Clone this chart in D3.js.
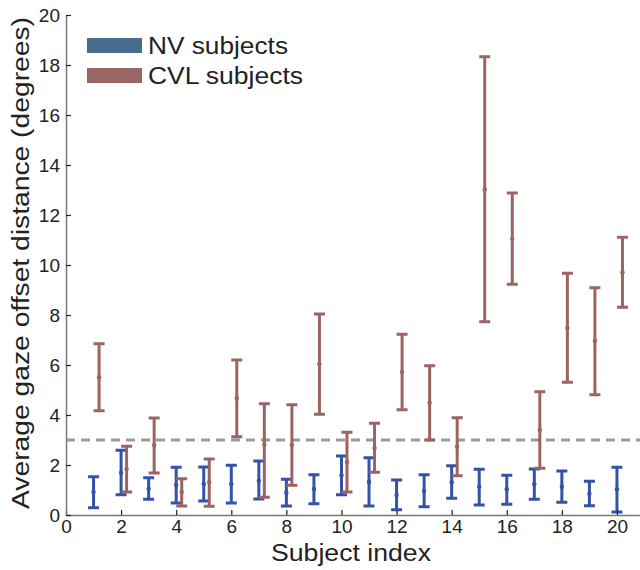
<!DOCTYPE html>
<html>
<head>
<meta charset="utf-8">
<script src="https://cdn.jsdelivr.net/npm/d3@7"></script>
<style>
  body { margin: 0; background: #fff; }
  svg { display: block; font-family: "Liberation Sans", Arial, sans-serif; }
</style>
</head>
<body>
<div id="chart"></div>
<script>
// subject index 1..20
const subjects = d3.range(1, 21);

// NV subjects: mean and error bar ends (degrees)
const nvMean = [0.92, 1.69, 1.05, 1.20, 1.24, 1.24, 1.37, 0.89, 1.04, 1.59,
                1.32, 0.80, 0.96, 1.31, 1.13, 1.03, 1.23, 1.13, 0.85, 1.03];
const nvLow  = [0.29, 0.81, 0.63, 0.48, 0.56, 0.48, 0.64, 0.36, 0.45, 0.81,
                0.36, 0.21, 0.33, 0.67, 0.40, 0.43, 0.63, 0.51, 0.37, 0.12];
const nvHigh = [1.53, 2.59, 1.49, 1.91, 1.92, 1.99, 2.16, 1.43, 1.61, 2.36,
                2.29, 1.40, 1.61, 1.97, 1.83, 1.59, 1.84, 1.76, 1.35, 1.91];

// CVL subjects
const cvlMean = [5.51, 1.84, 2.79, 0.92, 1.31, 4.67, 2.81, 2.80, 6.03, 2.12,
                 2.68, 5.72, 4.49, 2.73, 13.03, 11.04, 3.40, 7.48, 6.96, 9.71];
const cvlLow  = [4.17, 0.92, 1.68, 0.36, 0.35, 3.13, 0.71, 1.19, 4.03, 0.92,
                 1.71, 4.21, 3.00, 1.57, 7.73, 9.23, 1.87, 5.31, 4.81, 8.31];
const cvlHigh = [6.85, 2.75, 3.88, 1.45, 2.24, 6.20, 4.45, 4.41, 8.04, 3.31,
                 3.67, 7.23, 5.97, 3.89, 18.33, 12.88, 4.93, 9.67, 9.09, 11.11];

const threshold = 3;
const xTicks = d3.range(0, 21, 2);
const yTicks = d3.range(0, 21, 2);

const width = 640, height = 570;
const nvColor = "#3452a8", cvlColor = "#9b6463";

const svg = d3.select("#chart").append("svg")
    .attr("width", width)
    .attr("height", height);

const x = d3.scaleLinear().domain([0, 21]).range([66, 644.5]);
const y = d3.scaleLinear().domain([0, 20]).range([515, 15]);

// threshold line
svg.append("line")
    .attr("x1", x(0)).attr("x2", width)
    .attr("y1", y(threshold)).attr("y2", y(threshold))
    .attr("stroke", "#9a9a9a")
    .attr("stroke-width", 3)
    .attr("stroke-dasharray", "9,6");

function drawBars(mean, low, high, offset, color) {
  const rows = subjects.map((s, i) => ({s: s, m: mean[i], lo: low[i], hi: high[i]}));
  const g = svg.append("g")
      .selectAll("g")
      .data(rows)
      .join("g")
      .attr("stroke", color)
      .attr("fill", color);
  g.append("line")
      .attr("x1", d => x(d.s + offset)).attr("x2", d => x(d.s + offset))
      .attr("y1", d => y(d.lo)).attr("y2", d => y(d.hi))
      .attr("stroke-width", 3);
  g.selectAll(".cap")
      .data(d => [d.lo, d.hi].map(v => ({s: d.s, v: v})))
      .join("line")
      .attr("x1", d => x(d.s + offset) - 5.5).attr("x2", d => x(d.s + offset) + 5.5)
      .attr("y1", d => y(d.v)).attr("y2", d => y(d.v))
      .attr("stroke-width", 3);
  g.append("circle")
      .attr("cx", d => x(d.s + offset)).attr("cy", d => y(d.m))
      .attr("r", 2.2)
      .attr("stroke", "none");
}

drawBars(nvMean, nvLow, nvHigh, 0, nvColor);
drawBars(cvlMean, cvlLow, cvlHigh, 0.2, cvlColor);

// axes
const xAxis = svg.append("g")
    .attr("transform", `translate(0,${y(0)})`)
    .call(d3.axisBottom(x).tickValues(xTicks).tickSizeInner(-5).tickSizeOuter(0).tickPadding(5));
const yAxis = svg.append("g")
    .attr("transform", `translate(${x(0)},0)`)
    .call(d3.axisLeft(y).tickValues(yTicks).tickSizeInner(-5).tickSizeOuter(0).tickPadding(6));

[xAxis, yAxis].forEach(a => {
  a.select(".domain").attr("stroke", "#777").attr("stroke-width", 1.5);
  a.selectAll(".tick line").attr("stroke", "#222").attr("stroke-width", 1.2);
  a.selectAll(".tick text")
      .attr("font-family", "Liberation Sans, Arial, sans-serif")
      .attr("font-size", 19)
      .attr("fill", "#222");
});
yAxis.selectAll(".tick text").attr("dy", "0.36em");

// axis titles
svg.append("text")
    .attr("x", 351).attr("y", 561)
    .attr("text-anchor", "middle")
    .attr("font-size", 23)
    .attr("fill", "#222")
    .attr("textLength", 160)
    .attr("lengthAdjust", "spacingAndGlyphs")
    .text("Subject index");

svg.append("text")
    .attr("transform", "translate(29,263) rotate(-90)")
    .attr("text-anchor", "middle")
    .attr("font-size", 23)
    .attr("fill", "#222")
    .attr("textLength", 492)
    .attr("lengthAdjust", "spacingAndGlyphs")
    .text("Average gaze offset distance (degrees)");

// legend
const legendItems = [
  {label: "NV subjects", color: "#466d8e", len: 140},
  {label: "CVL subjects", color: "#9b6563", len: 155}
];
const legend = svg.append("g")
    .selectAll("g")
    .data(legendItems)
    .join("g")
    .attr("transform", (d, i) => `translate(87,${38 + i * 30})`);
legend.append("rect")
    .attr("width", 55).attr("height", 15)
    .attr("fill", d => d.color);
legend.append("text")
    .attr("x", 61).attr("y", 16)
    .attr("font-size", 23)
    .attr("fill", "#222")
    .attr("textLength", d => d.len)
    .attr("lengthAdjust", "spacingAndGlyphs")
    .text(d => d.label);
</script>
</body>
</html>
